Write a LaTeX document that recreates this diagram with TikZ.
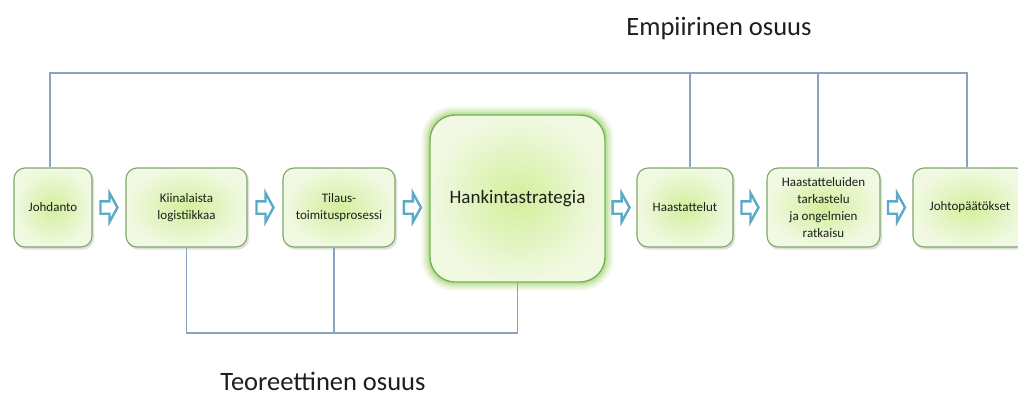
\documentclass[tikz,border=0pt]{standalone}
\usepackage{fontspec}
\setmainfont{Carlito}
\usetikzlibrary{calc}
\pgfdeclarelayer{background}
\pgfsetlayers{background,main}

\definecolor{boxline}{HTML}{7FA866}
\definecolor{boxin}{HTML}{D3EF9C}
\definecolor{boxout}{HTML}{F1F9E2}
\definecolor{glowc}{HTML}{A6D46E}
\definecolor{arrowc}{HTML}{5AAAC8}
\definecolor{connc}{HTML}{8AA3C2}
\definecolor{txt}{HTML}{1E1E1E}

\tikzset{
  stepbox/.style={draw=boxline, line width=1.1pt, rounded corners=11pt,
    inner color=boxin, outer color=boxout, text=txt, align=center,
    font=\fontsize{13}{17}\selectfont, minimum height=79pt, inner sep=2pt},
  conn/.style={draw=connc, line width=1.1pt},
  part/.style={text=txt, font=\fontsize{26.5}{30}\selectfont, anchor=base},
  % hollow block arrow, centred on the pic position
  pics/flowarrow/.style={code={
    \draw[draw=arrowc, line width=2.4pt, fill=white, line join=miter]
      (-8.5,-6.2) -- (0.5,-6.2) -- (0.5,-14.5) -- (8.5,0) -- (0.5,14.5)
      -- (0.5,6.2) -- (-8.5,6.2) -- cycle;
  }},
}

\begin{document}
\begin{tikzpicture}[x=1pt,y=-1pt]
  \useasboundingbox (0,0) rectangle (1018,397);

  % process steps
  \node[stepbox, minimum width=78pt]  (b1) at (53,207.5)   {Johdanto};
  \node[stepbox, minimum width=121pt] (b2) at (186.5,207.5) {Kiinalaista\\logistiikkaa};
  \node[stepbox, minimum width=112pt] (b3) at (339,207.5)  {Tilaus-\\toimitusprosessi};
  \node[stepbox, minimum width=175pt, minimum height=167pt, rounded corners=25pt,
        line width=1.4pt, draw=boxline!90!green,
        font=\fontsize{19}{23}\selectfont] (b4) at (517.5,198.5) {Hankintastrategia};
  \node[stepbox, minimum width=96pt]  (b5) at (685,207.5)  {Haastattelut};
  \node[stepbox, minimum width=113pt] (b6) at (823.5,207.5) {Haastatteluiden\\tarkastelu\\ja ongelmien\\ratkaisu};
  \node[stepbox, minimum width=114pt] (b7) at (970,207.5)  {Johtopäätökset};

  % page, glow and shadows behind the steps
  \begin{pgfonlayer}{background}
    \fill[white] (0,0) rectangle (1018,397);
    \foreach \w/\o in {16/0.12, 12/0.16, 8/0.24, 4/0.4}
      \draw[glowc, line width=\w pt, opacity=\o, rounded corners=25pt]
        (b4.south west) rectangle (b4.north east);
    \foreach \b in {b1,b2,b3,b5,b6,b7}
      \fill[black, opacity=0.12, rounded corners=11pt]
        ([shift={(1.5pt,-2pt)}]\b.south west) rectangle ([shift={(1.5pt,-2pt)}]\b.north east);
  \end{pgfonlayer}

  % arrows between steps
  \coordinate (a1) at ($(b1.east)!0.5!(b2.west)$);
  \coordinate (a2) at ($(b2.east)!0.5!(b3.west)$);
  \coordinate (a3) at ($(b3.east)!0.5!(b4.west |- b3.east)$);
  \coordinate (a4) at ($(b4.east |- b5.west)!0.5!(b5.west)$);
  \coordinate (a5) at ($(b5.east)!0.5!(b6.west)$);
  \coordinate (a6) at ($(b6.east)!0.5!(b7.west)$);
  \foreach \a in {a1,a2,a3,a4,a5,a6}
    \pic at (\a) {flowarrow};

  % bracket of the empirical part
  \coordinate (topy) at (0,73);
  \coordinate (t1) at ([xshift=-3pt]b1.north);
  \coordinate (t5) at ([xshift=5pt]b5.north);
  \coordinate (t6) at ([xshift=-5.5pt]b6.north);
  \coordinate (t7) at ([xshift=-3pt]b7.north);
  \draw[conn] (t1) |- (t7 |- topy) -- (t7);
  \draw[conn] (t5) -- (t5 |- topy);
  \draw[conn] (t6) -- (t6 |- topy);

  % bracket of the theoretical part
  \coordinate (boty) at (0,333);
  \coordinate (s2) at (b2.south);
  \coordinate (s3) at ([xshift=-5pt]b3.south);
  \coordinate (s4) at (b4.south);
  \draw[conn] (s2) |- (s4 |- boty) -- (s4);
  \draw[conn] (s3) -- (s3 |- boty);

  \node[part] (emp) at (719,35) {Empiirinen osuus};
  \node[part] (teo) at (323,390) {Teoreettinen osuus};
\end{tikzpicture}
\end{document}
